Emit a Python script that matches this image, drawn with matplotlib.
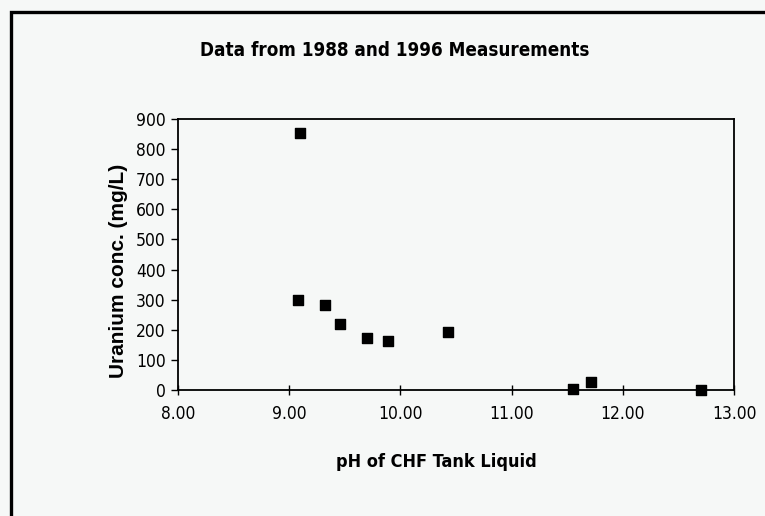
import matplotlib
matplotlib.use("Agg")
import matplotlib.pyplot as plt
from matplotlib.patches import Rectangle
from matplotlib import font_manager
from matplotlib.font_manager import FontProperties

ph = [9.10, 9.08, 9.32, 9.46, 9.70, 9.89, 10.43, 11.55, 11.71, 12.70]
uranium = [855, 300, 283, 218, 172, 162, 193, 3, 28, 0]
x_ticks = [8.0, 9.0, 10.0, 11.0, 12.0, 13.0]
y_ticks = [0, 100, 200, 300, 400, 500, 600, 700, 800, 900]

files = font_manager.findSystemFonts()
def pick(keys):
    for k in keys:
        for f in files:
            if f.split('/')[-1].lower() == k.lower():
                return f
    return None

reg_file = pick(['LiberationSansNarrow-Regular.ttf', 'DejaVuSansCondensed.ttf'])
bold_file = pick(['LiberationSansNarrow-Bold.ttf', 'DejaVuSansCondensed-Bold.ttf'])

def fp(bold, size):
    f = bold_file if bold else reg_file
    if f:
        return FontProperties(fname=f, size=size)
    return FontProperties(family='DejaVu Sans', weight='bold' if bold else 'normal', size=size)

bg = '#f6f8f7'
fig = plt.figure(figsize=(7.65, 5.16), dpi=100, facecolor=bg)
W, H = 765, 516
ax = fig.add_axes([178 / W, (H - 390) / H, (734 - 178) / W, (390 - 119) / H])
ax.set_facecolor(bg)

ax.scatter(ph, uranium, marker='s', s=48, color='black', zorder=3, clip_on=False)

ax.set_xlim(8, 13)
ax.set_ylim(0, 900)
ax.set_xticks(x_ticks)
ax.set_xticklabels([f"{v:.2f}" for v in x_ticks], fontproperties=fp(False, 12.5))
ax.set_yticks(y_ticks)
ax.set_yticklabels([str(v) for v in y_ticks], fontproperties=fp(False, 12.5))
ax.tick_params(axis='x', direction='inout', length=7, width=1, pad=7)
ax.tick_params(axis='y', direction='out', length=5, width=1, pad=4)
for s in ax.spines.values():
    s.set_color('black')
    s.set_linewidth(1.3)

fig.text(118 / W, 1 - 271 / H, "Uranium conc. (mg/L)", rotation=90, ha='center', va='center',
         fontsize=15, fontweight='bold', family=['Liberation Sans', 'DejaVu Sans'])
fig.text(436 / W, 1 - 462 / H, "pH of CHF Tank Liquid", ha='center', va='center',
         fontproperties=fp(True, 13))
fig.text(395 / W, 1 - 50 / H, "Data from 1988 and 1996 Measurements", ha='center',
         va='center', fontproperties=fp(True, 13.5))

# outer frame
fig.patches.append(Rectangle((10.5 / W, -0.1), 1.2, 1 - 11.5 / H + 0.1,
                             transform=fig.transFigure, fill=False,
                             edgecolor='black', linewidth=2.4))

fig.savefig("out.png", dpi=100, facecolor=bg)
